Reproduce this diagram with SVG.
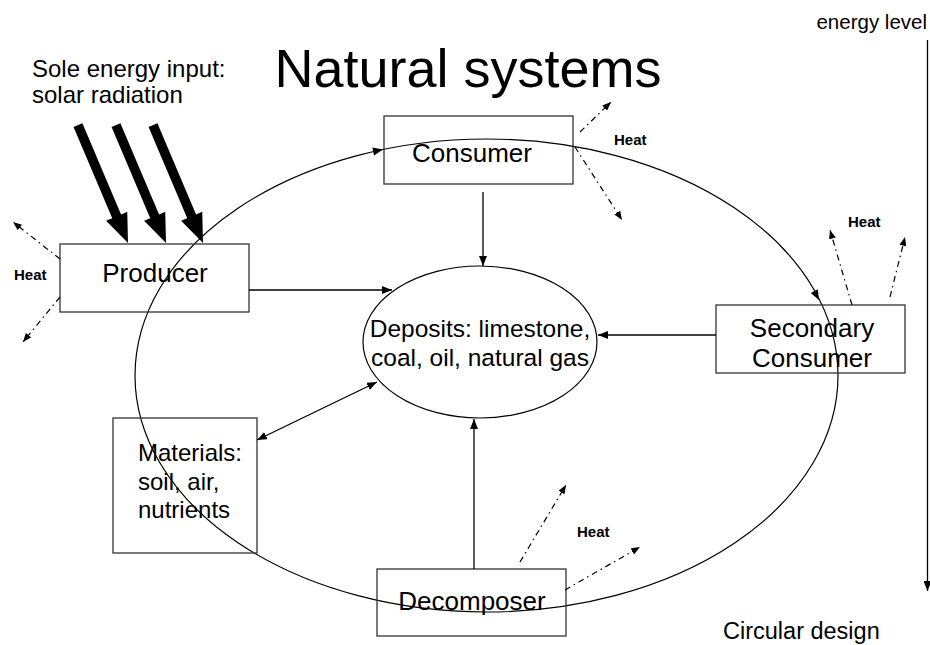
<svg xmlns="http://www.w3.org/2000/svg" xmlns:xlink="http://www.w3.org/1999/xlink" width="930" height="645" viewBox="0 0 930 645">
  <style>
    text { font-family: "Liberation Sans", Arial, sans-serif; fill: #000; }
    .box { fill: none; stroke: #333; stroke-width: 1.3; }
    .lbl { font-size: 26px; text-anchor: middle; }
    .heat { font-size: 15px; font-weight: bold; }
    .conn { stroke: #000; stroke-width: 1.3; fill: none; marker-end: url(#tip); }
    .dd { stroke: #000; stroke-width: 1.2; fill: none; stroke-dasharray: 6 4 1.5 4; marker-end: url(#tipS); }
  </style>
  <defs>
    <marker id="tip" viewBox="0 0 10 8" refX="10" refY="4" markerWidth="10" markerHeight="8" orient="auto-start-reverse" markerUnits="userSpaceOnUse">
      <path d="M0,0 L10,4 L0,8 z" fill="#000"/>
    </marker>
    <marker id="tipS" viewBox="0 0 10 8" refX="10" refY="4" markerWidth="9" markerHeight="7" orient="auto" markerUnits="userSpaceOnUse">
      <path d="M0,0 L10,4 L0,8 z" fill="#000"/>
    </marker>
    <!-- thick solar arrow, tip at origin, pointing along +y -->
    <path id="sun" d="M-4.8,-128 L4.8,-128 L4.8,-29 L11.5,-29 L0,0 L-11.5,-29 L-4.8,-29 Z" fill="#000"/>
  </defs>

  <rect width="930" height="645" fill="#fff"/>

  <!-- title and side notes -->
  <text x="468" y="87" font-size="54" text-anchor="middle">Natural systems</text>
  <text x="32" y="77" font-size="24">Sole energy input:</text>
  <text x="32" y="103" font-size="24">solar radiation</text>
  <text x="927" y="29" font-size="20.5" text-anchor="end">energy level</text>
  <text x="723" y="639" font-size="23.5">Circular design</text>

  <!-- circular flow path -->
  <g id="cycle">
    <ellipse cx="486.5" cy="375.5" rx="351.5" ry="236.5" fill="none" stroke="#000" stroke-width="1.2"/>
    <path d="M0,-4 L10,0 L0,4 z" fill="#000" transform="translate(383,149.5) rotate(-11.7) translate(-10,0)"/>
    <path d="M0,-4 L10,0 L0,4 z" fill="#000" transform="translate(819,300) rotate(62) translate(-10,0)"/>
  </g>

  <!-- solar input -->
  <g id="solar">
    <use xlink:href="#sun" transform="translate(128,243) rotate(-23)"/>
    <use xlink:href="#sun" transform="translate(166,243) rotate(-23)"/>
    <use xlink:href="#sun" transform="translate(203,243) rotate(-23)"/>
  </g>

  <g id="producer">
    <rect class="box" x="60" y="244" width="189" height="68"/>
    <text class="lbl" x="155" y="282">Producer</text>
  </g>
  <g id="consumer">
    <rect class="box" x="384" y="116" width="189" height="68"/>
    <text class="lbl" x="472" y="162">Consumer</text>
  </g>
  <g id="secondary">
    <rect class="box" x="716" y="305" width="189" height="68"/>
    <text class="lbl" x="812" y="337">Secondary</text>
    <text class="lbl" x="812" y="367">Consumer</text>
  </g>
  <g id="decomposer">
    <rect class="box" x="377" y="569" width="189" height="67"/>
    <text class="lbl" x="472" y="610">Decomposer</text>
  </g>
  <g id="materials">
    <rect class="box" x="113" y="418" width="144" height="135"/>
    <text x="138" y="461" font-size="24">Materials:</text>
    <text x="138" y="490" font-size="24">soil, air,</text>
    <text x="138" y="518" font-size="24">nutrients</text>
  </g>
  <g id="deposits">
    <ellipse cx="480" cy="342" rx="117" ry="76" fill="none" stroke="#000" stroke-width="1.2"/>
    <text x="480" y="337" font-size="24.5" text-anchor="middle">Deposits: limestone,</text>
    <text x="480" y="366" font-size="24.5" text-anchor="middle">coal, oil, natural gas</text>
  </g>

  <!-- heat labels -->
  <g id="heat-labels">
    <text class="heat" x="14" y="280">Heat</text>
    <text class="heat" x="614" y="145">Heat</text>
    <text class="heat" x="848" y="227">Heat</text>
    <text class="heat" x="577" y="537">Heat</text>
  </g>

  <!-- connectors -->
  <g id="connectors">
    <line class="conn" x1="483" y1="192" x2="483" y2="266"/>
    <line class="conn" x1="249" y1="290" x2="392" y2="290"/>
    <line class="conn" x1="716" y1="335" x2="598" y2="335"/>
    <line class="conn" x1="474" y1="569" x2="474" y2="419"/>
    <line class="conn" x1="377" y1="382" x2="257" y2="440" style="marker-start:url(#tip)"/>
    <line class="conn" x1="927.5" y1="40" x2="927.5" y2="591"/>

    <!-- heat losses -->
    <line class="dd" x1="60" y1="259" x2="13" y2="222"/>
    <line class="dd" x1="60" y1="297" x2="23" y2="342"/>
    <line class="dd" x1="580" y1="132" x2="611" y2="102"/>
    <line class="dd" x1="575" y1="147" x2="622" y2="220"/>
    <line class="dd" x1="852" y1="305" x2="830" y2="230"/>
    <line class="dd" x1="890" y1="297" x2="905" y2="237"/>
    <line class="dd" x1="520" y1="562" x2="566" y2="485"/>
    <line class="dd" x1="565" y1="590" x2="640" y2="547"/>
  </g>
</svg>
